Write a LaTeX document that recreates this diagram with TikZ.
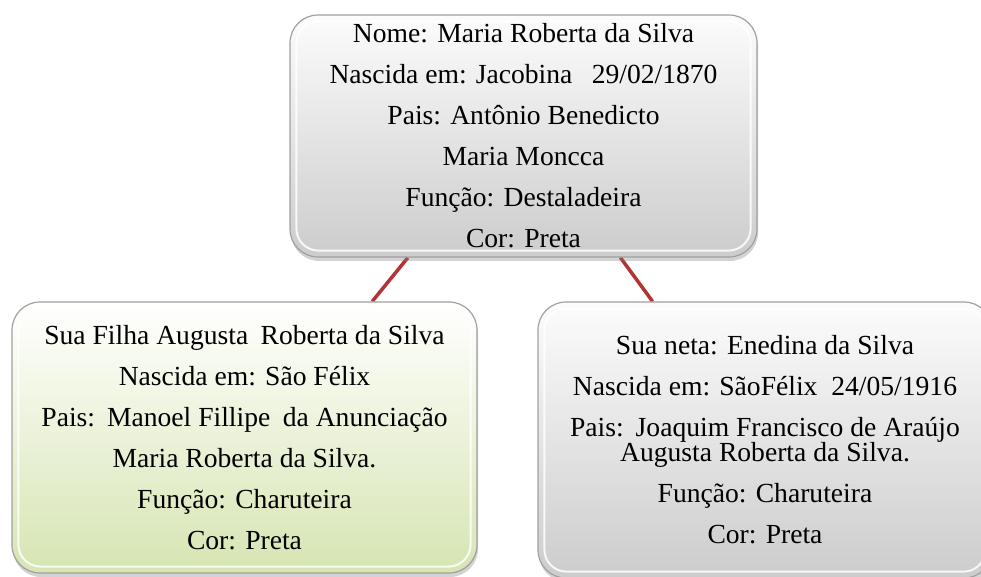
\documentclass[tikz,border=0pt]{standalone}
\usepackage{fontspec}
\setmainfont{Liberation Serif}
\usetikzlibrary{shadows,backgrounds,calc}
\definecolor{lineRed}{RGB}{178,52,52}
\definecolor{edgeGray}{RGB}{160,160,160}
\definecolor{grayTop}{RGB}{252,252,252}
\definecolor{grayMid}{RGB}{234,234,234}
\definecolor{grayBot}{RGB}{204,204,204}
\definecolor{greenMid}{RGB}{232,234,226}
\definecolor{greenBot}{RGB}{214,229,178}
\begin{document}
\begin{tikzpicture}[x=1pt,y=1pt,
  boxbase/.style={rectangle, rounded corners=28pt, draw=edgeGray, line width=1.2pt,
    align=center, font=\fontsize{27.6}{41}\selectfont, inner sep=0pt,
    drop shadow={opacity=0.35, shadow xshift=1pt, shadow yshift=-4pt}},
  graybox/.style={boxbase, top color=grayTop, middle color=grayMid, bottom color=grayBot},
  greenbox/.style={boxbase, top color=white, middle color=greenMid, bottom color=greenBot},
  glint/.style={white, line width=2pt, opacity=0.85, rounded corners=22pt},
  conn/.style={lineRed, line width=3.5pt}
]
\useasboundingbox (0,0) rectangle (981,576);

\node[graybox, minimum width=467pt, minimum height=242pt] (top) at (523.5,440)
  {Nome: Maria Roberta da Silva\\
   Nascida em: Jacobina\hspace{0.45em} 29/02/1870\\
   Pais: Antônio Benedicto\\
   Maria Moncca\\
   Função: Destaladeira\\
   Cor: Preta};

\node[greenbox, minimum width=465pt, minimum height=271pt] (left) at (244.5,138.5)
  {Sua Filha Augusta\hspace{0.2em} Roberta da Silva\\
   Nascida em: São Félix\\
   Pais:\hspace{0.1em} Manoel Fillipe\hspace{0.2em} da Anunciação\\
   Maria Roberta da Silva.\\
   Função: Charuteira\\
   Cor: Preta};

\node[graybox, minimum width=454pt, minimum height=276pt] (right) at (765,136)
  {Sua neta: Enedina da Silva\\
   Nascida em: SãoFélix\hspace{0.25em} 24/05/1916\\
   Pais:\hspace{0.1em} Joaquim Francisco de Araújo\\[-16pt]
   Augusta Roberta da Silva.\\
   Função: Charuteira\\
   Cor: Preta};

\foreach \n in {top,left,right}{
  \draw[glint] ($(\n.south west)+(7,7)$) rectangle ($(\n.north east)+(-7,-7)$);
}

\begin{scope}[on background layer]
  \draw[conn] ($(top.south west)!0.253!(top.south east)$) -- ($(left.north west)!0.774!(left.north east)$);
  \draw[conn] ($(top.south west)!0.707!(top.south east)$) -- ($(right.north west)!0.253!(right.north east)$);
\end{scope}
\end{tikzpicture}
\end{document}
